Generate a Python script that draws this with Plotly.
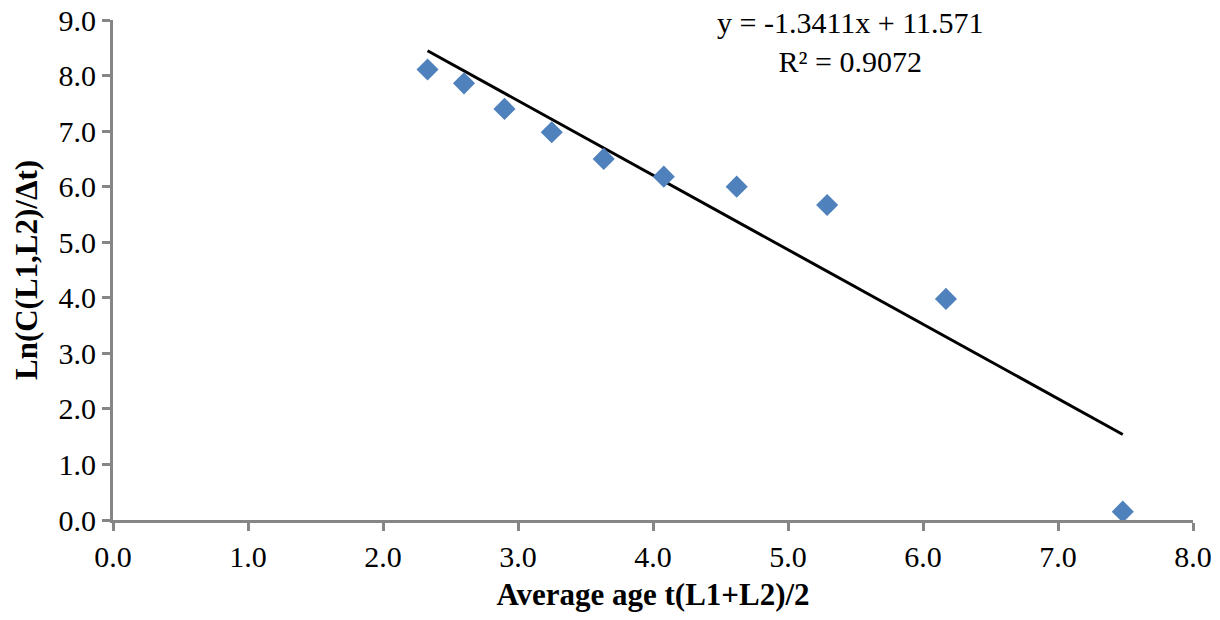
import numpy as np
import plotly.graph_objects as go

# Data
avg_age = [2.33, 2.60, 2.90, 3.25, 3.635, 4.08, 4.62, 5.29, 6.17, 7.48]
ln_c = [8.11, 7.86, 7.40, 6.98, 6.50, 6.18, 6.00, 5.67, 3.98, 0.15]

# Trendline coefficients (from the chart label)
slope = -1.3411
intercept = 11.571
r_squared = 0.9072

x_ticks = [0, 1, 2, 3, 4, 5, 6, 7, 8]
y_ticks = [0, 1, 2, 3, 4, 5, 6, 7, 8, 9]

FONT = "Liberation Serif, Times New Roman, serif"
AXIS_COLOR = "#868686"

fig = go.Figure()

trend_x = np.array([min(avg_age), max(avg_age)])
trend_y = slope * trend_x + intercept
fig.add_trace(go.Scatter(
    x=trend_x, y=trend_y, mode="lines",
    line=dict(color="black", width=3), showlegend=False, hoverinfo="skip"))

fig.add_trace(go.Scatter(
    x=avg_age, y=ln_c, mode="markers",
    marker=dict(symbol="diamond", size=17, color="#4F81BD"),
    showlegend=False))

fig.add_annotation(
    x=5.46, y=8.6, xref="x", yref="y", xanchor="center", yanchor="middle",
    text=f"y = {slope}x + {intercept}<br>R² = {r_squared}",
    showarrow=False, align="center",
    font=dict(family=FONT, size=30, color="black"))

fig.update_layout(
    width=1220, height=620,
    margin=dict(l=113, r=27, t=20, b=100, autoexpand=False),
    paper_bgcolor="white", plot_bgcolor="white",
    font=dict(family=FONT, size=30, color="black"),
    xaxis=dict(
        range=[0, 8], tickvals=x_ticks,
        ticktext=[f"{v:.1f}" for v in x_ticks],
        showgrid=False, zeroline=False, automargin=False,
        showline=True, linecolor=AXIS_COLOR, linewidth=3,
        ticks="outside", ticklen=8, tickwidth=3, tickcolor=AXIS_COLOR,
        ticklabeloverflow="allow",
        tickfont=dict(family=FONT, size=30, color="black"),
        title=dict(text="<b>Average age t(L1+L2)/2</b>", standoff=12,
                   font=dict(family=FONT, size=31, color="black")),
    ),
    yaxis=dict(
        range=[0, 9], tickvals=y_ticks,
        ticktext=[f"{v:.1f}" for v in y_ticks],
        showgrid=False, zeroline=False, automargin=False,
        showline=True, linecolor=AXIS_COLOR, linewidth=3,
        ticks="outside", ticklen=8, tickwidth=3, tickcolor=AXIS_COLOR,
        ticklabeloverflow="allow",
        tickfont=dict(family=FONT, size=30, color="black"),
        title=dict(text="<b>Ln(C(L1,L2)/Δt)</b>", standoff=12,
                   font=dict(family=FONT, size=31, color="black")),
    ),
)

fig.write_html(
    "out.html",
    config={"displayModeBar": False},
    post_script="document.body.style.margin='0';document.body.style.overflow='hidden';",
)
